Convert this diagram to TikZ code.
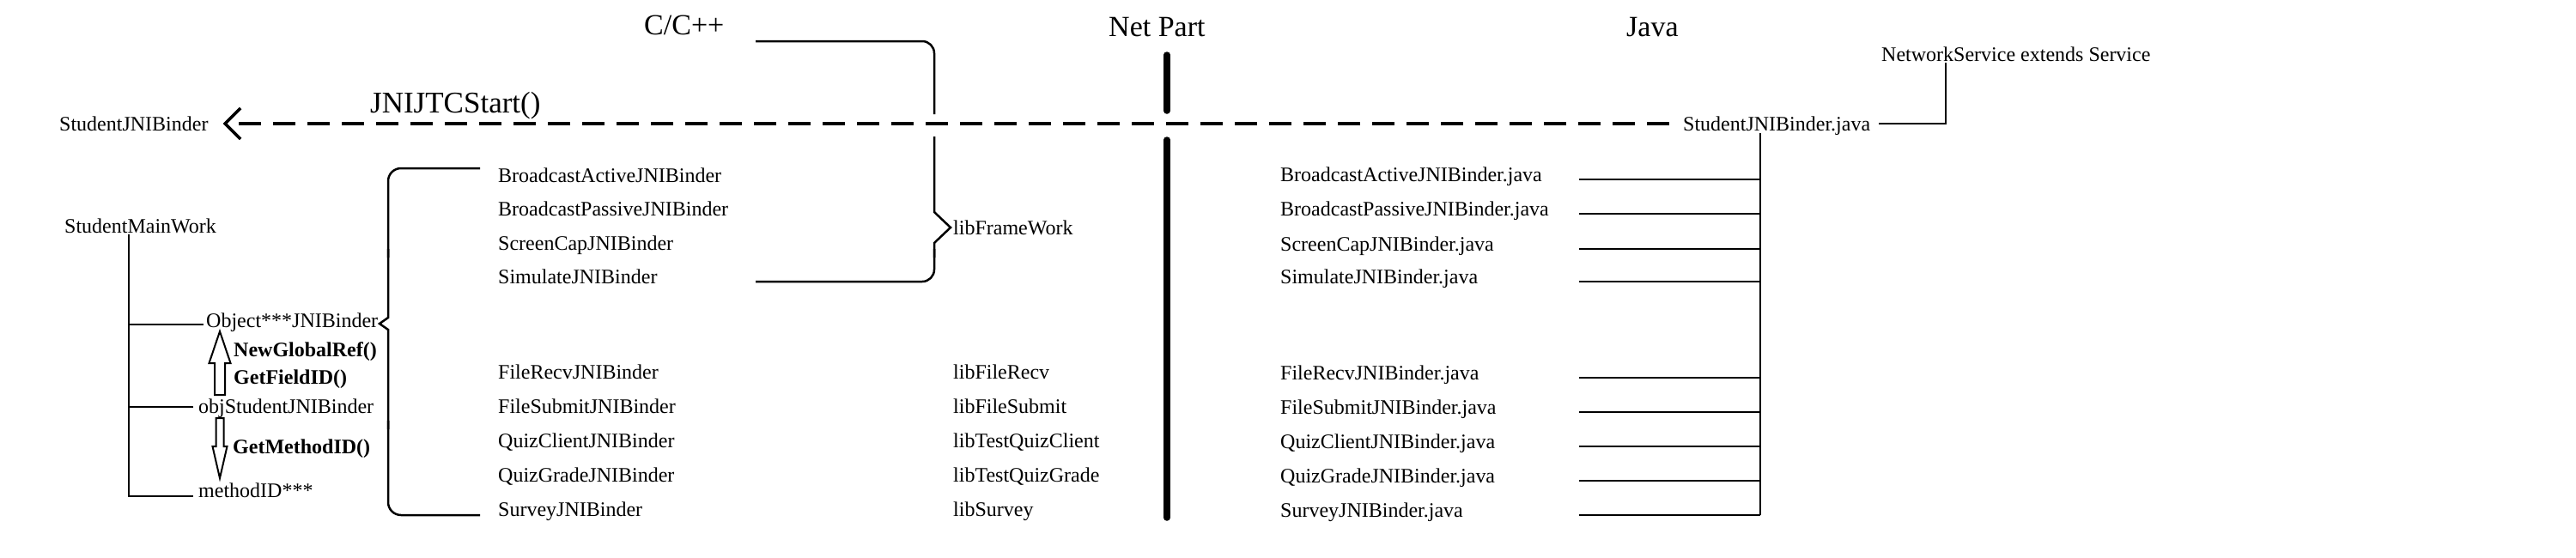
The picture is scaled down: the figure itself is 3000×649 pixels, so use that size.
\documentclass[tikz,border=0pt]{standalone}
\usepackage{fontspec}
\setmainfont{Liberation Serif}
\usetikzlibrary{arrows.meta}

\begin{document}
\begin{tikzpicture}[x=1pt,y=-1pt]

                \tikzset{txt/.style = {font=\fontsize{24}{28}\selectfont, inner sep=0pt, anchor=west, text height=16pt, text depth=0pt}}
                \tikzset{head/.style = {txt, font=\fontsize{34}{40}\selectfont, text height=22pt}}
                \tikzset{bigcall/.style = {txt, font=\fontsize{35}{42}\selectfont, text height=23pt}}
                \tikzset{call/.style = {txt, font=\bfseries\fontsize{24}{28}\selectfont}}
                \tikzset{wire/.style = {line width=2.5pt}}
                \tikzset{jni/.style = {line width=4pt, dash pattern=on 26pt off 14pt, -{Straight Barb[length=18pt,width=36pt,line width=3.5pt]}}}
                \tikzset{hollow/.style = {line width=2pt, line join=miter}}
                \tikzset{netline/.style = {line width=7.5pt, line cap=round}}

                \useasboundingbox (0,0) rectangle (3000,649);

                \node[head] (cpp) at (750, 29) {C/C++};
                \node[head] (net) at (1291, 31) {Net Part};
                \node[head] (java) at (1894, 31) {Java};

                \node[txt] (sjni) at (69, 144) {StudentJNIBinder};
                \node[bigcall] (jtc) at (431, 120) {JNIJTCStart()};
                \node[txt] (sjava) at (1960, 144) {StudentJNIBinder.java};
                \node[txt] (nsvc) at (2191, 63) {NetworkService extends Service};

                \node[txt] (smw) at (75, 263) {StudentMainWork};
                \node[txt] (obj3) at (240, 373) {Object***JNIBinder};
                \node[txt] (objs) at (231, 473) {objStudentJNIBinder};
                \node[txt] (mid) at (231, 571) {methodID***};
                \node[call] (ngr) at (272, 407) {NewGlobalRef()};
                \node[call] (gfid) at (272, 439) {GetFieldID()};
                \node[call] (gmid) at (271, 520) {GetMethodID()};

                \node[txt] (cBA) at (580, 204) {BroadcastActiveJNIBinder};
                \node[txt] (cBP) at (580, 243) {BroadcastPassiveJNIBinder};
                \node[txt] (cSC) at (580, 283) {ScreenCapJNIBinder};
                \node[txt] (cSim) at (580, 322) {SimulateJNIBinder};
                \node[txt] (cFR) at (580, 433) {FileRecvJNIBinder};
                \node[txt] (cFS) at (580, 473) {FileSubmitJNIBinder};
                \node[txt] (cQC) at (580, 513) {QuizClientJNIBinder};
                \node[txt] (cQG) at (580, 553) {QuizGradeJNIBinder};
                \node[txt] (cSv) at (580, 593) {SurveyJNIBinder};

                \node[txt] (libfw) at (1110, 265) {libFrameWork};
                \node[txt] (libFR) at (1110, 433) {libFileRecv};
                \node[txt] (libFS) at (1110, 473) {libFileSubmit};
                \node[txt] (libQC) at (1110, 513) {libTestQuizClient};
                \node[txt] (libQG) at (1110, 553) {libTestQuizGrade};
                \node[txt] (libSv) at (1110, 593) {libSurvey};

                \node[txt] (jBA) at (1491, 203) {BroadcastActiveJNIBinder.java};
                \node[txt] (jBP) at (1491, 243) {BroadcastPassiveJNIBinder.java};
                \node[txt] (jSC) at (1491, 284) {ScreenCapJNIBinder.java};
                \node[txt] (jSim) at (1491, 322) {SimulateJNIBinder.java};
                \node[txt] (jFR) at (1491, 434) {FileRecvJNIBinder.java};
                \node[txt] (jFS) at (1491, 474) {FileSubmitJNIBinder.java};
                \node[txt] (jQC) at (1491, 514) {QuizClientJNIBinder.java};
                \node[txt] (jQG) at (1491, 554) {QuizGradeJNIBinder.java};
                \node[txt] (jSv) at (1491, 594) {SurveyJNIBinder.java};

                \coordinate (trunk) at (150, 273);
                \coordinate (ctop) at (559, 196);
                \coordinate (ctip) at (442, 377);
                \coordinate (cbot) at (559, 600);
                \coordinate (fwtop) at (880, 48);
                \coordinate (fwtip) at (1107, 265);
                \coordinate (fwbot) at (880, 328);
                \coordinate (svcfoot) at (2266, 73);
                \coordinate (bus) at (2050, 155);
                \coordinate (busend) at (2050, 600);
                \coordinate (jcol) at (1839, 0);
                \coordinate (reftip) at (256, 386);
                \coordinate (midtip) at (256, 557);

                \draw[jni] ([xshift=-16pt]sjava.west) -- ([xshift=17pt]sjni.east);
                \draw[wire] ([xshift=10pt]sjava.east) -| (svcfoot);

                \draw[netline] (1359, 64) -- (1359, 129);
                \draw[netline] (1359, 163) -- (1359, 603);

                \draw[wire] (trunk) |- ([xshift=-6pt,yshift=-7pt]mid.west);
                \draw[wire] ([xshift=-3pt,yshift=-5pt]obj3.west) -| (trunk);
                \draw[wire] ([xshift=-6pt,yshift=-1pt]objs.west) -| (trunk);

                \draw[hollow] (reftip) -- ++(12.5, 37) -- ++(-6.5, 0) -- ++(0, 37) -- ++(-12, 0) -- ++(0, -37) -- ++(-6.5, 0) -- cycle;
                \draw[hollow] (midtip) -- ++(8.5, -37) -- ++(-4, 0) -- ++(0, -33) -- ++(-9, 0) -- ++(0, 33) -- ++(-4, 0) -- cycle;

                \draw[wire, rounded corners=15pt] (ctop) -- (452, 196) -- (452, 300);
                \draw[wire] (452, 290) -- (452, 370) -- (ctip) -- (452, 384) -- (452, 500);
                \draw[wire, rounded corners=15pt] (452, 490) -- (452, 600) -- (cbot);

                \draw[wire, rounded corners=14pt] (fwtop) -- (1088, 48) -- (1088, 133);
                \draw[wire] (1088, 159) -- (1088, 247) -- (fwtip) -- (1088, 283) -- (1088, 300);
                \draw[wire, rounded corners=14pt] (1088, 290) -- (1088, 328) -- (fwbot);

                \draw[wire] (bus) -- (busend);
                \draw[wire] ([yshift=-6pt]jBA.west -| jcol) -- ([yshift=-6pt]jBA.west -| bus);
                \draw[wire] ([yshift=-6pt]jBP.west -| jcol) -- ([yshift=-6pt]jBP.west -| bus);
                \draw[wire] ([yshift=-6pt]jSC.west -| jcol) -- ([yshift=-6pt]jSC.west -| bus);
                \draw[wire] ([yshift=-6pt]jSim.west -| jcol) -- ([yshift=-6pt]jSim.west -| bus);
                \draw[wire] ([yshift=-6pt]jFR.west -| jcol) -- ([yshift=-6pt]jFR.west -| bus);
                \draw[wire] ([yshift=-6pt]jFS.west -| jcol) -- ([yshift=-6pt]jFS.west -| bus);
                \draw[wire] ([yshift=-6pt]jQC.west -| jcol) -- ([yshift=-6pt]jQC.west -| bus);
                \draw[wire] ([yshift=-6pt]jQG.west -| jcol) -- ([yshift=-6pt]jQG.west -| bus);
                \draw[wire] ([yshift=-6pt]jSv.west -| jcol) -- ([yshift=-6pt]jSv.west -| bus);
            \end{tikzpicture}
\end{document}
